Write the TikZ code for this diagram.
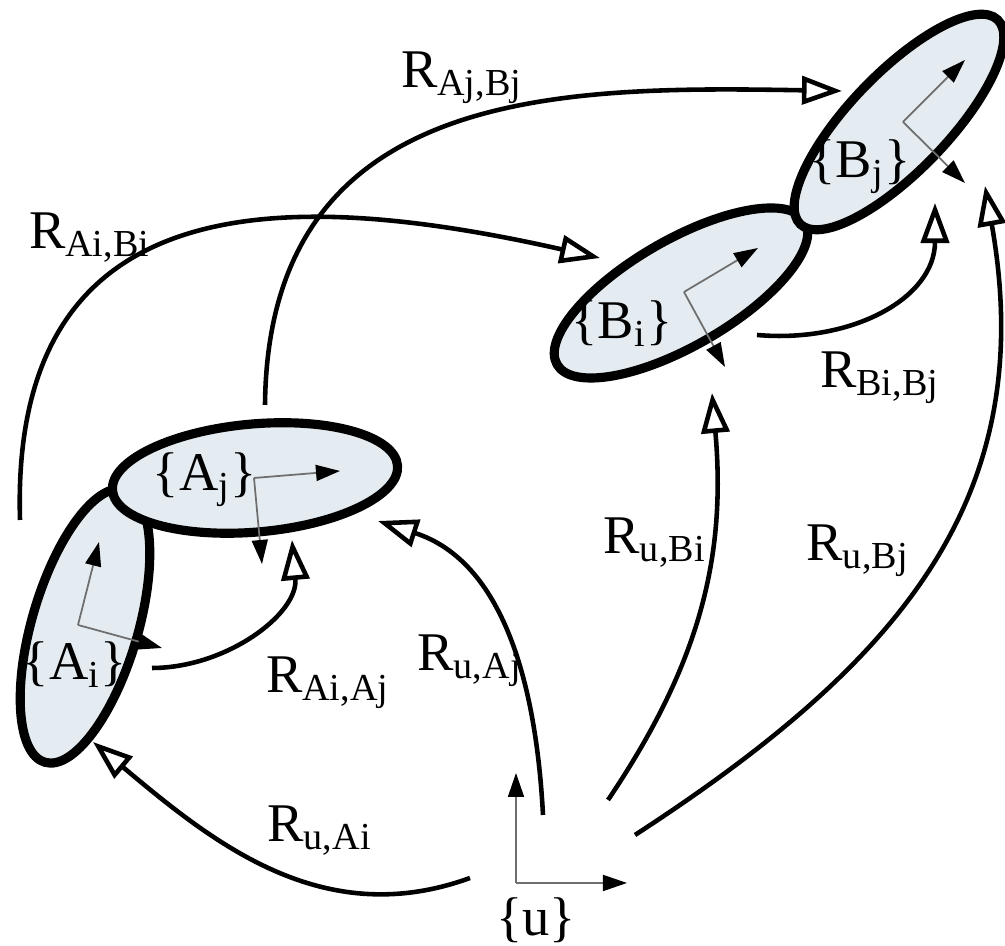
\documentclass[tikz,border=0pt]{standalone}
\usepackage{fontspec}
\setmainfont{LiberationSerif}[Extension=.ttf, UprightFont=*-Regular]
\usetikzlibrary{
    arrows.meta,
    shapes.geometric
}
\definecolor{clusterfill}{HTML}{E4ECF1}
\definecolor{axisgray}{HTML}{6E6E6E}
\tikzset{
    cluster/.style={
        ellipse, draw=black, fill=clusterfill,
        line width=2.6pt, inner sep=0pt
    },
    frame axis/.style={
        draw=axisgray, line width=0.5pt,
        -{Triangle[length=2.4mm, width=1.6mm, color=black]}
    },
    relation/.style={
        line width=1.3pt,
        -{Triangle[open, length=4mm, width=2.8mm]}
    },
    rel label/.style={
        font=\fontsize{15.5}{18}\selectfont, inner sep=0pt
    },
}

\begin{document}
\begin{tikzpicture}[x=0.01cm, y=0.01cm]

    \useasboundingbox (0,0) rectangle (1005,946);

    % Clusters
    \node[cluster, rotate=73.6, minimum width=2.84cm, minimum height=1.06cm] (Ai) at (85,320) {};
    \node[cluster, rotate=5, minimum width=2.86cm, minimum height=1.08cm] (Aj) at (255,468) {};
    \node[cluster, rotate=30, minimum width=2.86cm, minimum height=1.06cm] (Bi) at (681,653) {};
    \node[cluster, rotate=46, minimum width=2.84cm, minimum height=0.98cm] (Bj) at (899,824) {};

    % Frames
    \coordinate (u-o) at (516,63);
    \coordinate (Ai-o) at (78,321);
    \coordinate (Aj-o) at (254,468);
    \coordinate (Bi-o) at (684,654);
    \coordinate (Bj-o) at (903,824);
    \draw[frame axis] (u-o) -- (516,173) coordinate (u-y);
    \draw[frame axis] (u-o) -- (627,63) coordinate (u-x);
    \draw[frame axis] (Ai-o) -- (99,404) coordinate (Ai-y);
    \draw[frame axis] (Ai-o) -- (162,298) coordinate (Ai-x);
    \draw[frame axis] (Aj-o) -- (340,475) coordinate (Aj-x);
    \draw[frame axis] (Aj-o) -- (262,382) coordinate (Aj-y);
    \draw[frame axis] (Bi-o) -- (758,698) coordinate (Bi-x);
    \draw[frame axis] (Bi-o) -- (725,579) coordinate (Bi-y);
    \draw[frame axis] (Bj-o) -- (965,886) coordinate (Bj-x);
    \draw[frame axis] (Bj-o) -- (965,763) coordinate (Bj-y);

    % Frame names
    \node[rel label] (Ai-name) at (75,281) {\{A\textsubscript{i}\}};
    \node[rel label] (Aj-name) at (205,466) {\{A\textsubscript{j}\}};
    \node[rel label] (Bi-name) at (622,622) {\{B\textsubscript{i}\}};
    \node[rel label] (Bj-name) at (860,779) {\{B\textsubscript{j}\}};
    \node[rel label] (u-name) at (536,26) {\{u\}};

    % Relation end points
    \coordinate (AjBj-s) at (265,541);
    \coordinate (AjBj-t) at (842,855);
    \coordinate (AiBi-s) at (20,426);
    \coordinate (AiBi-t) at (600,688);
    \coordinate (BiBj-s) at (757,611);
    \coordinate (BiBj-t) at (935,743);
    \coordinate (uBj-s) at (635,111);
    \coordinate (uBj-t) at (985,760);
    \coordinate (uBi-s) at (608,146);
    \coordinate (uBi-t) at (712,553);
    \coordinate (uAj-s) at (543,131);
    \coordinate (uAj-t) at (378,425);
    \coordinate (uAi-s) at (470,68);
    \coordinate (uAi-t) at (93,204);
    \coordinate (AiAj-s) at (152,278);
    \coordinate (AiAj-t) at (292,406);

    % Relations
    \draw[relation] (AjBj-s) .. controls (268,860) and (560,860) .. (AjBj-t);
    \draw[relation] (AiBi-s) .. controls (10,760) and (280,760) .. (AiBi-t);
    \draw[relation] (BiBj-s) to[out=-5, in=-90, looseness=1.1] (BiBj-t);
    \draw[relation] (uBj-s) to[out=33, in=-80, looseness=1.1] (uBj-t);
    \draw[relation] (uBi-s) to[out=56, in=-85] (uBi-t);
    \draw[relation] (uAj-s) to[out=93, in=-18] (uAj-t);
    \draw[relation] (uAi-s) to[out=-160, in=-40] (uAi-t);
    \draw[relation] (AiAj-s) to[out=0, in=-85] (AiAj-t);

    % Relation labels
    \node[rel label] (AjBj-lab) at (462,868) {R\textsubscript{Aj,Bj}};
    \node[rel label] (AiBi-lab) at (90,708) {R\textsubscript{Ai,Bi}};
    \node[rel label] (BiBj-lab) at (880,568) {R\textsubscript{Bi,Bj}};
    \node[rel label] (uBi-lab) at (655,403) {R\textsubscript{u,Bi}};
    \node[rel label] (uBj-lab) at (858,395) {R\textsubscript{u,Bj}};
    \node[rel label] (uAj-lab) at (470,285) {R\textsubscript{u,Aj}};
    \node[rel label] (AiAj-lab) at (328,263) {R\textsubscript{Ai,Aj}};
    \node[rel label] (uAi-lab) at (320,115) {R\textsubscript{u,Ai}};

\end{tikzpicture}
\end{document}
